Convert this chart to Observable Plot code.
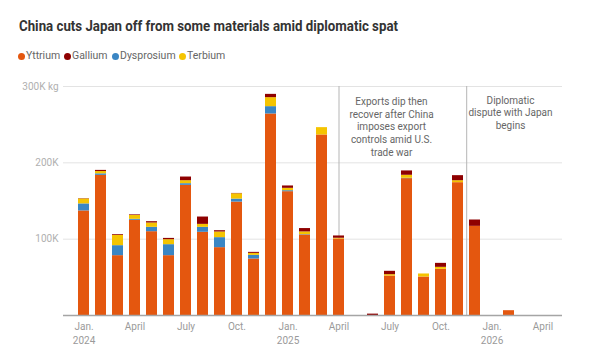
<!DOCTYPE html>
<html><head><meta charset="utf-8">
<script src="https://cdn.jsdelivr.net/npm/d3@7"></script>
<script src="https://cdn.jsdelivr.net/npm/@observablehq/plot@0.6"></script>
<style>
body{margin:0;background:#fff;font-family:Roboto,sans-serif;}
#wrap{position:relative;width:600px;height:359px;overflow:hidden;background:#fff}
#title{position:absolute;left:19px;top:15px;font-weight:700;font-size:15.5px;color:#333;white-space:nowrap;transform-origin:0 50%;line-height:22px}
#legend{position:absolute;left:17.5px;top:49px;width:400px;display:flex;font-size:10.5px;color:#666;line-height:14px}
.item{display:flex;align-items:center;white-space:nowrap;flex:none;box-sizing:border-box}
.dot{width:7px;height:7px;border-radius:50%;margin-right:1.5px;flex:none}
#chart{position:absolute;left:0;top:70px}
</style></head>
<body>
<div id="wrap">
  <div id="title">China cuts Japan off from some materials amid diplomatic spat</div>
  <div id="legend"></div>
  <div id="chart"></div>
</div>
<script>
// Months (band domain)
const months = ["2024-01","2024-02","2024-03","2024-04","2024-05","2024-06","2024-07","2024-08","2024-09","2024-10","2024-11","2024-12",
  "2025-01","2025-02","2025-03","2025-04","2025-05","2025-06","2025-07","2025-08","2025-09","2025-10","2025-11","2025-12",
  "2026-01","2026-02","2026-03","2026-04"];
// Values in thousand kg
const yttrium    = [137,183.6,78.4,124.7,109.8,78.4,170.5,109,88.9,148.6,74,264, 162.2,105.5,236.5,100.2,0,0,51.7,179.3,50.4,60.5,174,116.8, 0,6.3,0,0];
const dysprosium = [9.2,2,13.1,1.3,5.7,14.4,2.2,6.5,13.1,3.9,4.8,9.6, 1.3,0.5,0,0,0,0,0,0.5,0,0,0,0, 0,0,0,0];
const terbium    = [6.5,3,13.5,5,5.7,6.5,3.9,3.9,7.4,7,2.6,11.8, 3.1,3.5,9.6,1,0,0,1.8,3.9,4,2.6,2.6,0, 0,0,0,0];
const gallium    = [0.4,1.5,1,0.8,1.7,1.7,4.8,9.6,1.7,0.4,1.3,4.3, 3.1,4.4,0,3,0,1.8,4.4,5.7,0,5.2,6.6,8.3, 0,0,0,0];

const legendNames = ["Yttrium","Gallium","Dysprosium","Terbium"];
const legendColors = ["#e4570f","#8e0000","#3a86c4","#f5c400"];

const tickMonths = ["2024-01","2024-04","2024-07","2024-10","2025-01","2025-04","2025-07","2025-10","2026-01","2026-04"];
const tickLabels = ["Jan.\n2024","April","July","Oct.","Jan.\n2025","April","July","Oct.","Jan.\n2026","April"];
const yTicks = [100,200,300];
const yTickLabels = ["100K","200K","300K kg"];

const eventMonths = ["2025-04","2025-11"];
const annotations = [
  {month:"2025-07", text:"Exports dip then\nrecover after China\nimposes export\ncontrols amid U.S.\ntrade war"},
  {month:"2026-02", text:"Diplomatic\ndispute with Japan\nbegins"}
];

// long table, stacking order bottom→top
const seriesOrder = [["Yttrium",yttrium],["Dysprosium",dysprosium],["Terbium",terbium],["Gallium",gallium]];
const table = [];
for (const [name, vals] of seriesOrder) months.forEach((m,i)=>{ if (vals[i]>0) table.push({month:m, element:name, value:vals[i]}); });

// legend
const itemWidths = [46, 48, 67, 50];
const lg = document.getElementById("legend");
legendNames.forEach((n,i)=>{
  const it = document.createElement("div"); it.className="item"; it.style.width = itemWidths[i]+"px";
  const d = document.createElement("span"); d.className="dot"; d.style.background=legendColors[i];
  const t = document.createElement("span"); t.textContent=n;
  it.appendChild(d); it.appendChild(t); lg.appendChild(it);
});

const chart = Plot.plot({
  width:600, height:289,
  marginTop:16, marginBottom:44, marginLeft:63, marginRight:38,
  style:{fontFamily:"Roboto, sans-serif", fontSize:"10px", background:"transparent", overflow:"visible"},
  x:{type:"band", domain:months, paddingInner:0.38, paddingOuter:0.19, axis:null},
  y:{domain:[0,300], axis:null},
  color:{domain:legendNames, range:legendColors},
  marks:[
    Plot.ruleY(yTicks, {stroke:"#e3e3e3", strokeWidth:1}),
    Plot.ruleX([eventMonths[0]], {y1:0, y2:300, stroke:"#b5b5b5", strokeWidth:1}),
    Plot.ruleX([eventMonths[1]], {y1:0, y2:300, stroke:"#b5b5b5", strokeWidth:1, dx:8.7}),
    Plot.barY(table, {x:"month", y:"value", fill:"element"}),
    Plot.ruleY([0], {stroke:"#a5a5a5", strokeWidth:1.5}),
    Plot.axisY({ticks:yTicks, tickFormat:d=>yTickLabels[yTicks.indexOf(d)], tickSize:0, tickPadding:5, color:"#b0b0b0", label:null}),
    Plot.axisX({ticks:tickMonths, tickFormat:d=>tickLabels[tickMonths.indexOf(d)], tickSize:0, tickPadding:5, color:"#9a9a9a", label:null, lineHeight:1.4}),
    Plot.text(annotations.slice(0,1), {x:"month", y:()=>300, text:"text", lineAnchor:"top", dy:9.5, dx:1.5, lineHeight:1.27, fontSize:10, fill:"#666"}),
    Plot.text(annotations.slice(1), {x:"month", y:()=>300, text:"text", lineAnchor:"top", dy:8, dx:1.5, lineHeight:1.27, fontSize:10, fill:"#666"})
  ]
});
document.getElementById("chart").appendChild(chart);

// condense title to match reference width
const title = document.getElementById("title");
const w = title.getBoundingClientRect().width;
title.style.transform = `scaleX(${379/w})`;
</script>
</body></html>
